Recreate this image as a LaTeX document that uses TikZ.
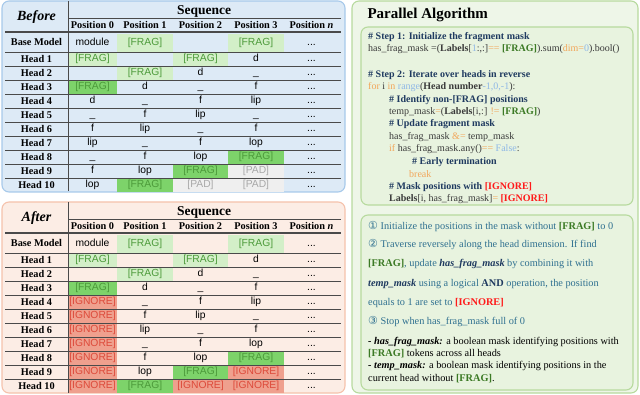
\documentclass[tikz,border=0pt]{standalone}
\usepackage{fontspec}
\setmainfont{Liberation Serif}
\setsansfont{Liberation Sans}
\newfontfamily\circfont{DejaVu Sans}
\usetikzlibrary{calc}

\definecolor{bluebg}{HTML}{DDEAF6}
\definecolor{blueln}{HTML}{A7C9EA}
\definecolor{pinkbg}{HTML}{FCEDE5}
\definecolor{pinkln}{HTML}{F5C2AC}
\definecolor{greenbg}{HTML}{EEF6E8}
\definecolor{greenin}{HTML}{E8F3DF}
\definecolor{greenln}{HTML}{B7DA9E}
\definecolor{gridln}{HTML}{4A4A4A}
\definecolor{fragLc}{HTML}{D3EFC8}
\definecolor{fragDc}{HTML}{7DD36A}
\definecolor{padc}{HTML}{EFEFEF}
\definecolor{ignc}{HTML}{EFA08E}
\definecolor{fragtxt}{HTML}{4C9A3A}
\definecolor{padtxt}{HTML}{A8A8A8}
\definecolor{igntxt}{HTML}{DD4A3A}
\definecolor{kwc}{HTML}{F2A65A}
\definecolor{numc}{HTML}{8FB8E6}
\definecolor{cmtc}{HTML}{1F3A60}
\definecolor{fragc}{HTML}{3C7A25}
\definecolor{ignr}{HTML}{FF1A1A}
\definecolor{expc}{HTML}{2F7090}
\definecolor{codetxt}{HTML}{3A3A3A}

\newcommand\kw[1]{\textcolor{kwc}{#1}}
\newcommand\nm[1]{\textcolor{numc}{#1}}
\newcommand\fragtag{\textbf{\textcolor{fragc}{[FRAG]}}}
\newcommand\igntag{\textbf{\textcolor{ignr}{[IGNORE]}}}
\newcommand\hfm{\textbf{\textit{\textcolor{cmtc}{has\_frag\_mask}}}}
\newcommand\tmk{\textbf{\textit{\textcolor{cmtc}{temp\_mask}}}}

\begin{document}
\begin{tikzpicture}[x=1pt, y=-1pt, font=\fontsize{10.3}{12}\selectfont,
  panel/.style={draw, line width=1.1pt, rounded corners=7pt},
  gridline/.style={draw=gridln, line width=0.6pt},
  cell/.style={inner sep=0pt, text height=7.6pt, text depth=2.4pt, font=\sffamily\fontsize{10.3}{12}\selectfont, text=black},
  non/.style={},
  fragL/.style={fill=fragLc, text=fragtxt},
  fragD/.style={fill=fragDc, text=fragtxt},
  pad/.style={fill=padc, text=padtxt},
  ign/.style={fill=ignc, text=igntxt},
  rowhd/.style={font=\bfseries\fontsize{10.3}{12}\selectfont},
  code/.style={anchor=west, inner sep=0pt, text=codetxt, font=\fontsize{10}{12}\selectfont},
  cmt/.style={code, text=cmtc, font=\bfseries\fontsize{10}{12}\selectfont},
  expl/.style={anchor=west, inner sep=0pt, text=expc}]

\useasboundingbox (0,0) rectangle (640,395);

% ---------- panels ----------
\draw[panel, draw=blueln, fill=bluebg]  (2,1)   rectangle (345,192);
\draw[panel, draw=pinkln, fill=pinkbg]  (2,202) rectangle (345,393);
\draw[panel, draw=greenln, fill=greenbg] (352,1) rectangle (638,393);
\draw[panel, draw=greenln, fill=greenin] (361,27) rectangle (633,205);
\draw[panel, draw=greenln, fill=greenin] (361,215) rectangle (633,390);

% ---------- cells: before ----------
\foreach \r/\cells in {
  0/{non/module, fragL/[FRAG], non/{}, fragL/[FRAG]},
  1/{fragL/[FRAG], non/{}, fragL/[FRAG], non/d},
  2/{non/{}, fragL/[FRAG], non/d, non/\_},
  3/{fragD/[FRAG], non/d, non/\_, non/f},
  4/{non/d, non/\_, non/f, non/lip},
  5/{non/\_, non/f, non/lip, non/\_},
  6/{non/f, non/lip, non/\_, non/f},
  7/{non/lip, non/\_, non/f, non/lop},
  8/{non/\_, non/f, non/lop, fragD/[FRAG]},
  9/{non/f, non/lop, fragD/[FRAG], pad/[PAD]},
  10/{non/lop, fragD/[FRAG], pad/[PAD], pad/[PAD]}} {
  \foreach [count=\c] \s/\t in \cells {
    \pgfmathsetmacro\cx{\c==1 ? 92.5 : 145+55.5*(\c-2)}
    \pgfmathsetmacro\cw{\c==1 ? 49 : 55.5}
    \pgfmathsetmacro\cy{\r==0 ? 43 : 45+14*\r}
    \pgfmathsetmacro\ch{\r==0 ? 18 : 14}
    \node[cell, \s, minimum width=\cw, minimum height=\ch] (b-\r-\c) at (\cx,\cy) {\t};
  }
}

% ---------- cells: after ----------
\foreach \r/\cells in {
  0/{non/module, fragL/[FRAG], non/{}, fragL/[FRAG]},
  1/{fragL/[FRAG], non/{}, fragL/[FRAG], non/d},
  2/{non/{}, fragL/[FRAG], non/d, non/\_},
  3/{fragD/[FRAG], non/d, non/\_, non/f},
  4/{ign/[IGNORE], non/\_, non/f, non/lip},
  5/{ign/[IGNORE], non/f, non/lip, non/\_},
  6/{ign/[IGNORE], non/lip, non/\_, non/f},
  7/{ign/[IGNORE], non/\_, non/f, non/lop},
  8/{ign/[IGNORE], non/f, non/lop, fragD/[FRAG]},
  9/{ign/[IGNORE], non/lop, fragD/[FRAG], ign/[IGNORE]},
  10/{ign/[IGNORE], fragD/[FRAG], ign/[IGNORE], ign/[IGNORE]}} {
  \foreach [count=\c] \s/\t in \cells {
    \pgfmathsetmacro\cx{\c==1 ? 92.5 : 145+55.5*(\c-2)}
    \pgfmathsetmacro\cw{\c==1 ? 49 : 55.5}
    \pgfmathsetmacro\cy{\r==0 ? 244 : 246+14*\r}
    \pgfmathsetmacro\ch{\r==0 ? 18 : 14}
    \node[cell, \s, minimum width=\cw, minimum height=\ch] (a-\r-\c) at (\cx,\cy) {\t};
  }
}

% ---------- table frame, headers, row labels ----------
\foreach \oy/\ttl/\p in {0/Before/b, 201/After/a} {
  \node[font=\bfseries\itshape\fontsize{14}{16}\selectfont] (\p-ttl) at (36.5,\oy+17) {\ttl};
  \node[font=\bfseries\fontsize{13.5}{15}\selectfont] (\p-seq) at (204,\oy+11) {Sequence};
  \foreach \c/\t in {1/0, 2/1, 3/2, 4/3, 5/\textit{n}} {
    \pgfmathsetmacro\cx{\c==1 ? 92.5 : 145+55.5*(\c-2)}
    \node[rowhd] (\p-pos\c) at (\cx,\oy+25) {Position \t};
  }
  \node[rowhd] (\p-h0) at (36.5,\oy+42) {Base Model};
  \node[cell] (\p-dots0) at (311.5,\oy+43) {...};
  \foreach \r in {1,...,10} {
    \node[rowhd] (\p-h\r) at (36.5,\oy+45+14*\r) {Head \r};
    \node[cell] (\p-dots\r) at (311.5,\oy+45+14*\r) {...};
  }
  % rules
  \draw[gridline] (68,\oy+18) -- (341,\oy+18);
  \draw[gridline, line width=1.4pt] (5,\oy+32) -- (341,\oy+32);
  \foreach \r in {0,...,9}
    \draw[gridline] (5,\oy+52+14*\r) -- (341,\oy+52+14*\r);
  \draw[gridline, line width=0.9pt] (68,\oy+1.5) -- (68,\oy+191.5);
}

% ---------- algorithm ----------
\node[anchor=west, font=\bfseries\fontsize{15}{17}\selectfont] (title) at (364,15) {Parallel Algorithm};

\node[cmt]  (c1)  at (368,37)    {\# Step 1: Initialize the fragment mask};
\node[code] (c2)  at (368,49)    {has\_frag\_mask =(\textbf{Labels}[\nm{1}:,:]\kw{==} \fragtag).sum(\kw{dim=}\nm{0}).bool()};
\node[cmt]  (c3)  at (368,75)    {\# Step 2: Iterate over heads in reverse};
\node[code] (c4)  at (368,87.5)  {\kw{for} i \kw{in} \nm{range}(\textbf{Head number}\nm{-1,0,-1}):};
\node[cmt]  (c5)  at (389,100)   {\# Identify non-[FRAG] positions};
\node[code] (c6)  at (389,112)   {temp\_mask\kw{=}(\textbf{Labels}[i,:] \kw{!=} \fragtag)};
\node[cmt]  (c7)  at (389,124.5) {\# Update fragment mask};
\node[code] (c8)  at (389,137)   {has\_frag\_mask \kw{\&=} temp\_mask};
\node[code] (c9)  at (389,149.5) {\kw{if} has\_frag\_mask.any()\kw{==} \nm{False}:};
\node[cmt]  (c10) at (412,162)   {\# Early termination};
\node[code] (c11) at (409,174)   {\kw{break}};
\node[cmt]  (c12) at (389,187)   {\# Mask positions with \igntag};
\node[code] (c13) at (389,199)   {\textbf{Labels}[i, has\_frag\_mask]\kw{=} \igntag};

% ---------- explanation ----------
\node[expl] (e1) at (368,227) {{\circfont\fontsize{11}{12}\selectfont ①} Initialize the positions in the mask without \fragtag{} to 0};
\node[expl] (e2) at (368,245) {{\circfont\fontsize{11}{12}\selectfont ②} Traverse reversely along the head dimension. If find};
\node[expl] (e3) at (368,264) {\fragtag, update \hfm{} by combining it with};
\node[expl] (e4) at (368,284) {\tmk{} using a logical \textbf{\textcolor{cmtc}{AND}} operation, the position};
\node[expl] (e5) at (368,303) {equals to 1 are set to \igntag};
\node[expl] (e6) at (368,322) {{\circfont\fontsize{11}{12}\selectfont ③} Stop when has\_frag\_mask full of 0};
\node[expl, text=black] (n1) at (368,342) {\textbf{\textit{- has\_frag\_mask:}} a boolean mask identifying positions with};
\node[expl, text=black] (n2) at (368,354) {\fragtag{} tokens across all heads};
\node[expl, text=black] (n3) at (368,366) {\textbf{\textit{- temp\_mask:}} a boolean mask identifying positions in the};
\node[expl, text=black] (n4) at (368,379) {current head without \fragtag.};

\end{tikzpicture}
\end{document}
